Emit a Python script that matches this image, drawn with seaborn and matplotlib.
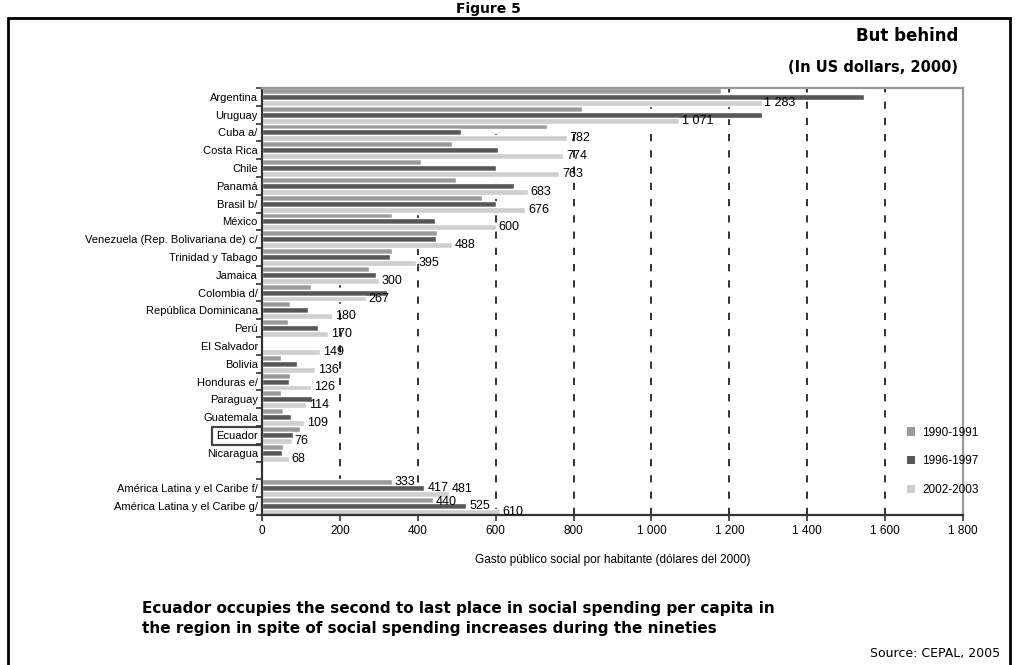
import numpy as np
import pandas as pd
import matplotlib.pyplot as plt
import seaborn as sns
from matplotlib.patches import Patch, Rectangle
from matplotlib.ticker import FixedLocator

# ----------------------------------------------------------
# STYLE
# ----------------------------------------------------------

sns.set_style("ticks")
plt.rcParams['font.family'] = ['Liberation Sans', 'DejaVu Sans']
plt.rcParams['text.color'] = "black"
plt.rcParams['axes.labelcolor'] = "black"
plt.rcParams['xtick.labelcolor'] = "black"
plt.rcParams['ytick.labelcolor'] = "black"

# ----------------------------------------------------------
# DATA (gasto publico social por habitante, dolares del 2000)
# ----------------------------------------------------------

countries = [
    "Argentina", "Uruguay", "Cuba a/", "Costa Rica", "Chile", "Panamá",
    "Brasil b/", "México", "Venezuela (Rep. Bolivariana de) c/",
    "Trinidad y Tabago", "Jamaica", "Colombia d/", "República Dominicana",
    "Perú", "El Salvador", "Bolivia", "Honduras e/", "Paraguay",
    "Guatemala", "Ecuador", "Nicaragua", " ",
    "América Latina y el Caribe f/", "América Latina y el Caribe g/",
]
v_1990 = [1179, 821, 733, 488, 409, 499, 566, 335, 450, 335, 275, 126,
          72, 67, 0, 49, 72, 49, 54, 98, 54, 0, 333, 440]
v_1996 = [1545, 1284, 512, 607, 602, 646, 602, 443, 447, 329, 293, 322,
          118, 144, 0, 90, 70, 129, 74, 80, 52, 0, 417, 525]
v_2002 = [1283, 1071, 782, 774, 763, 683, 676, 600, 488, 395, 300, 267,
          180, 170, 149, 136, 126, 114, 109, 76, 68, 0, 481, 610]

periods = ["1990-1991", "1996-1997", "2002-2003"]
colors = ["#9a9a9a", "#575757", "#cfcfcf"]

df = pd.DataFrame({
    "pais": countries * 3,
    "periodo": np.repeat(periods, len(countries)),
    "gasto": v_1990 + v_1996 + v_2002,
})

# ----------------------------------------------------------
# FIGURE
# ----------------------------------------------------------

fig = plt.figure(figsize=(10.18, 6.65), dpi=100)
ax = fig.add_axes([0.2574, 0.2256, 0.6886, 0.6421])

sns.barplot(
    data=df, y="pais", x="gasto", hue="periodo",
    order=countries, hue_order=periods, palette=colors,
    orient="h", width=1.0, saturation=1, errorbar=None,
    legend=False, ax=ax,
)

ax.set_xlim(0, 1800)
xt = list(range(0, 1801, 200))
ax.set_xticks(xt)
ax.set_xticklabels([f"{v:,}".replace(",", " ") for v in xt], fontsize=8.5)
ax.set_xlabel("Gasto público social por habitante (dólares del 2000)",
              fontsize=8.5, labelpad=12)
ax.set_ylabel("")

for v in range(200, 1601, 200):
    ax.axvline(v, color="#222222", lw=1.3, ls=(0, (4, 5)), zorder=0.5)

# y tick marks between rows
n = len(countries)
ax.tick_params(axis="y", which="major", length=0, pad=3, labelsize=8)
ax.yaxis.set_minor_locator(FixedLocator(np.arange(-0.5, n, 1.0)))
ax.tick_params(axis="y", which="minor", length=4, width=1.2, color="#333333")
ax.tick_params(axis="x", length=4, width=1.2, color="#333333")

for side in ["left", "bottom"]:
    ax.spines[side].set_color("#333333")
    ax.spines[side].set_linewidth(1.6)
for side in ["top", "right"]:
    ax.spines[side].set_visible(True)
    ax.spines[side].set_color("#9a9a9a")
    ax.spines[side].set_linewidth(1.6)

# value labels (2002-2003 for all, every period for the regional rows)
def fmt(v):
    return f"{v:,.0f}".replace(",", " ")

for i, cont in enumerate(ax.containers):
    labels = []
    rows = []
    for p in cont:
        w = p.get_width()
        yc = p.get_y() + p.get_height() / 2
        row = int(round(yc))
        rows.append(row)
        if w <= 0:
            labels.append("")
        elif i == 2 or row >= n - 2:
            labels.append(fmt(w))
        else:
            labels.append("")
    texts = ax.bar_label(cont, labels=labels, fontsize=9, padding=2)
    # nudge the crowded regional labels apart
    for t, row in zip(texts, rows):
        if i == 2 and row == n - 2:
            t.xyann = (2, 4)
        elif i == 0 and row == n - 1:
            t.xyann = (2, -1)

# Ecuador box
for lab in ax.get_yticklabels():
    if lab.get_text() == "Ecuador":
        lab.set_bbox(dict(boxstyle="square,pad=0.35", fc="none",
                          ec="#444444", lw=1.6))

# legend
handles = [Patch(facecolor=c, edgecolor="none") for c in colors]
ax.legend(handles, periods, loc="lower left", bbox_to_anchor=(0.905, 0.02),
          frameon=False, fontsize=8.5, handlelength=0.7, handleheight=0.7,
          labelspacing=1.4, handletextpad=0.6)

# ----------------------------------------------------------
# TEXTS AND FRAME
# ----------------------------------------------------------

fig.text(0.48, 0.986, "Figure 5", ha="center", va="center",
         fontsize=10, fontweight="bold", family="DejaVu Sans")
fig.text(0.941, 0.946, "But behind", ha="right", va="center",
         fontsize=12, fontweight="bold", family="DejaVu Sans")
fig.text(0.941, 0.898, "(In US dollars, 2000)", ha="right", va="center",
         fontsize=10.5, fontweight="bold", family="DejaVu Sans")
fig.text(0.1395, 0.07,
         "Ecuador occupies the second to last place in social spending per capita in\n"
         "the region in spite of social spending increases during the nineties",
         ha="left", va="center", fontsize=11, fontweight="bold",
         family="DejaVu Sans", linespacing=1.35)
fig.text(0.982, 0.018, "Source: CEPAL, 2005", ha="right", va="center",
         fontsize=9, family="DejaVu Sans")

fig.patches.append(Rectangle((0.008, -0.01), 0.984, 0.983,
                             transform=fig.transFigure, fill=False,
                             ec="black", lw=2))

fig.savefig("out.png", dpi=100)
